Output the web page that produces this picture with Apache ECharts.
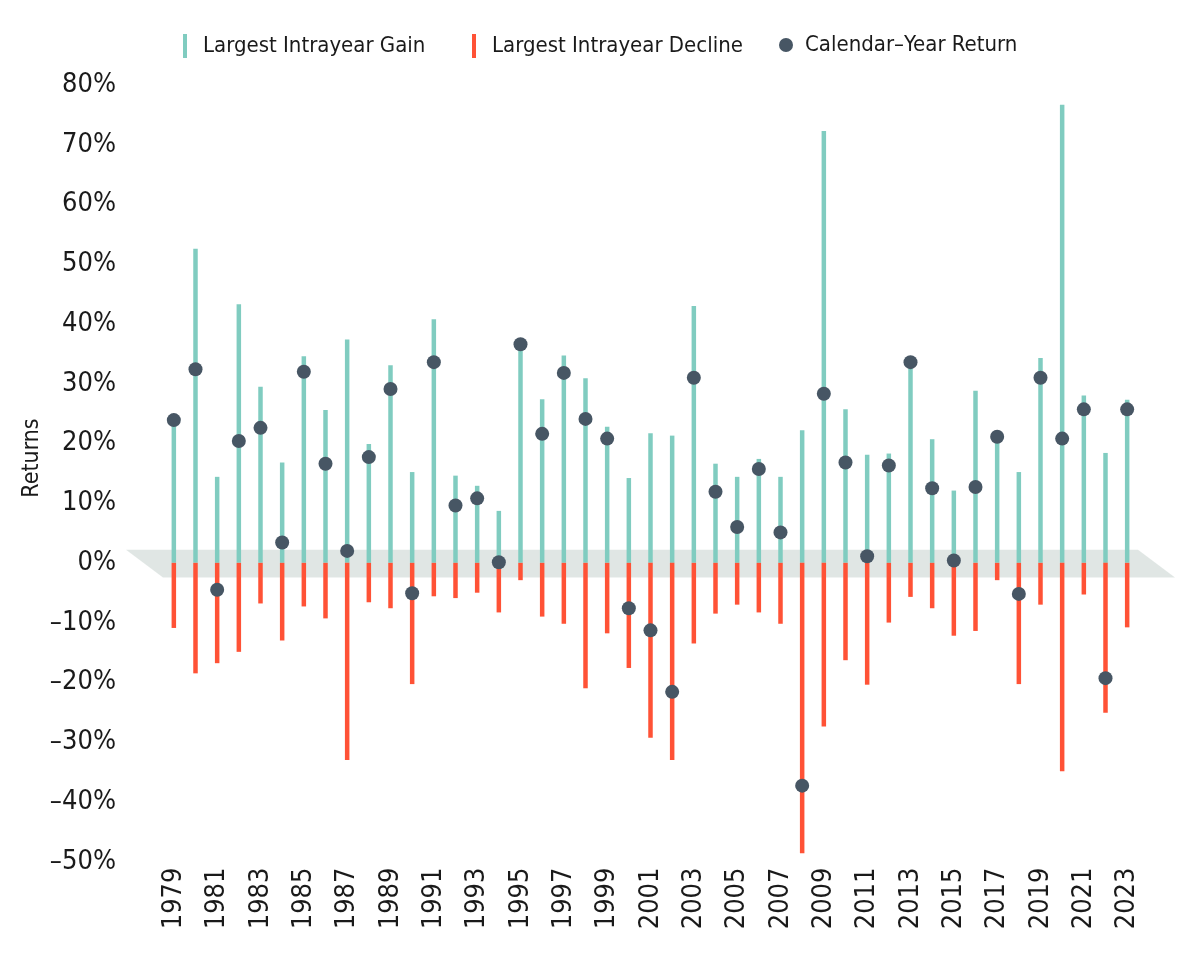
<!DOCTYPE html>
<html>
<head>
<meta charset="utf-8">
<script src="https://cdn.jsdelivr.net/npm/echarts@6/dist/echarts.min.js"></script>
<style>
html,body{margin:0;padding:0;background:#fff;}
#chart{width:1201px;height:954px;}
</style>
</head>
<body>
<div id="chart"></div>
<script>
const years = [];
for (let y = 1979; y <= 2023; y++) years.push(String(y));

const gainValues = [
  24.0, 52.6, 14.4, 43.3, 29.5, 16.8, 34.6, 25.6, 37.4, 19.9,
  33.1, 15.2, 40.8, 14.6, 12.9, 8.7, 36.8, 27.4, 34.7, 30.9,
  22.8, 14.2, 21.7, 21.3, 43.0, 16.6, 14.4, 17.4, 14.4, 22.2,
  72.3, 25.7, 18.1, 18.3, 33.7, 20.7, 12.1, 28.8, 21.5, 15.2,
  34.3, 76.7, 28.0, 18.4, 27.3
];
const declineValues = [
  -10.9, -18.5, -16.8, -14.9, -6.8, -13.0, -7.3, -9.3, -33.0, -6.6,
  -7.6, -20.3, -5.6, -5.9, -5.0, -8.3, -2.9, -9.0, -10.2, -21.0,
  -11.8, -17.6, -29.3, -33.0, -13.5, -8.5, -7.0, -8.3, -10.2, -48.6,
  -27.4, -16.3, -20.4, -10.0, -5.7, -7.6, -12.2, -11.4, -2.9, -20.3,
  -7.0, -34.9, -5.3, -25.1, -10.8
];
const returnValues = [
  23.9, 32.4, -4.5, 20.4, 22.6, 3.4, 32.0, 16.6, 2.0, 17.7,
  29.1, -5.1, 33.6, 9.6, 10.8, 0.1, 36.6, 21.6, 31.8, 24.1,
  20.8, -7.6, -11.3, -21.6, 31.0, 11.9, 6.0, 15.7, 5.1, -37.3,
  28.3, 16.8, 1.1, 16.3, 33.6, 12.5, 0.4, 12.7, 21.1, -5.2,
  31.0, 20.8, 25.7, -19.3, 25.7
];
const seriesNames = ['Largest Intrayear Gain', 'Largest Intrayear Decline', 'Calendar\u2013Year Return'];
const bandRange = [2.2, -2.45];

const FONT = "'Liberation Sans Narrow', 'DejaVu Sans Condensed', 'Roboto', sans-serif";
const GREEN = '#80ccc0', RED = '#ff5236', DOT = '#475664', TEXT = '#1a1a1a';

const chart = echarts.init(document.getElementById('chart'), null, {renderer: 'canvas'});

const legendBase = {
  top: 29, orient: 'horizontal', selectedMode: false,
  textStyle: {fontFamily: FONT, fontSize: 22, color: TEXT}
};

chart.setOption({
  animation: false,
  backgroundColor: '#fff',
  grid: {left: 163, right: 63, top: 85, bottom: 92.5, containLabel: false},
  legend: [
    Object.assign({}, legendBase, {left: 178, itemWidth: 4, itemHeight: 24, icon: 'rect',
      data: [seriesNames[0]], textStyle: Object.assign({}, legendBase.textStyle, {padding: [0,0,0,11]})}),
    Object.assign({}, legendBase, {left: 467, itemWidth: 4, itemHeight: 24, icon: 'rect',
      data: [seriesNames[1]], textStyle: Object.assign({}, legendBase.textStyle, {padding: [0,0,0,11]})}),
    Object.assign({}, legendBase, {left: 774, itemWidth: 14, itemHeight: 14, icon: 'circle',
      data: [seriesNames[2]], textStyle: Object.assign({}, legendBase.textStyle, {padding: [0,0,0,7]})})
  ],
  xAxis: {
    type: 'category', data: years, boundaryGap: true,
    axisLine: {show: false}, axisTick: {show: false}, splitLine: {show: false},
    axisLabel: {interval: 1, rotate: 90, margin: 6, fontFamily: FONT, fontSize: 27, color: TEXT}
  },
  yAxis: {
    type: 'value', min: -50, max: 80, interval: 10,
    axisLine: {show: false}, axisTick: {show: false}, splitLine: {show: false},
    axisLabel: {margin: 47, fontFamily: FONT, fontSize: 27, color: TEXT,
      formatter: v => (v < 0 ? '\u2013' + Math.abs(v) : v) + '%'}
  },
  graphic: [{
    type: 'text', rotation: Math.PI / 2,
    style: {text: 'Returns', fontFamily: FONT, fontSize: 23, fill: TEXT, align: 'center', verticalAlign: 'middle'},
    x: 32, y: 458, silent: true
  }],
  series: [
    {name: seriesNames[0], type: 'bar', data: gainValues, barWidth: 4.5, barGap: '-100%',
      itemStyle: {color: GREEN}, silent: true},
    {name: seriesNames[1], type: 'bar', data: declineValues, barWidth: 4.5, barGap: '-100%',
      itemStyle: {color: RED}, silent: true},
    {name: 'band', type: 'custom', silent: true, data: [[0, 0]],
      renderItem: function (params, api) {
        const cs = params.coordSys;
        const yT = api.coord([0, bandRange[0]])[1];
        const yB = api.coord([0, bandRange[1]])[1];
        const sk = 37;
        return {
          type: 'polygon',
          shape: {points: [[cs.x - sk, yT], [cs.x + cs.width, yT], [cs.x + cs.width + sk, yB], [cs.x, yB]]},
          style: {fill: 'rgba(60,100,85,0.16)'}
        };
      }},
    {name: seriesNames[2], type: 'scatter', data: returnValues, symbolSize: 14,
      itemStyle: {color: DOT, opacity: 1}, silent: true}
  ]
});
</script>
</body>
</html>
